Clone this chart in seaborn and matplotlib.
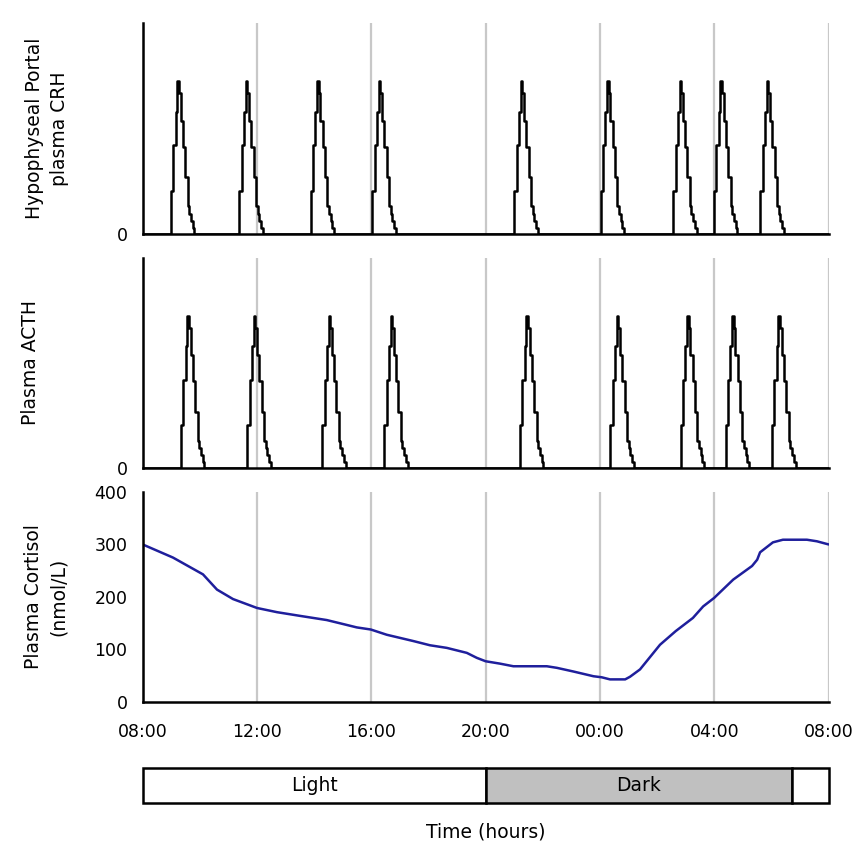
import matplotlib
matplotlib.use("Agg")
import matplotlib.pyplot as plt
import numpy as np
import pandas as pd
import seaborn as sns

# hours after 08:00
hour_ticks = [0, 4, 8, 12, 16, 20, 24]
hour_labels = ["08:00", "12:00", "16:00", "20:00", "00:00", "04:00", "08:00"]

# pulse onsets (hours after 08:00)
crh_onsets = [0.99, 3.38, 5.88, 8.04, 13.0, 16.02, 18.56, 19.99, 21.61]
acth_onsets = [1.34, 3.66, 6.28, 8.45, 13.2, 16.36, 18.82, 20.40, 22.02]

# shape of one pulse (offset in hours, relative level)
pulse_offsets = [0, 0.082, 0.163, 0.222, 0.28, 0.34, 0.42, 0.50, 0.58, 0.64, 0.70, 0.76, 0.82]
pulse_levels = [28, 58, 80, 100, 92, 74, 57, 37, 18, 13, 8.5, 4, 0]

# plasma cortisol (nmol/L)
cort_hours = [0.0, 1.06, 2.11, 2.60, 3.16, 4.0, 4.70, 5.50, 5.97, 6.44, 7.08, 7.49, 7.98,
              8.54, 9.47, 10.05, 10.64, 11.34, 11.69, 12.0, 12.50, 12.97, 14.14, 14.49,
              15.07, 15.77, 16.06, 16.35, 16.88, 17.05, 17.40, 18.10, 18.65, 19.25, 19.61,
              19.99, 20.66, 21.32, 21.50, 21.60, 22.05, 22.40, 23.24, 23.59, 24.0]
cort_values = [300, 275, 243, 214, 196, 179, 171, 164, 160, 156, 147.5, 142, 138,
               128, 116, 108, 103, 93.5, 84, 77.5, 73, 68, 68, 65,
               58, 49, 47, 43, 43, 48, 62, 109, 135, 160, 182,
               198, 233, 259, 271, 285, 304, 309, 309, 306, 300]

# light/dark bar
phase_names = ["Light", "Dark", ""]
phase_start = [0, 12, 22.73]
phase_end = [12, 22.73, 24]
phase_colors = ["white", "#c0c0c0", "white"]


def pulse_frame(onsets):
    t = [0.0]
    v = [0.0]
    for on in onsets:
        t.append(on - 0.001)
        v.append(0.0)
        for off, lev in zip(pulse_offsets, pulse_levels):
            t.append(on + off)
            v.append(lev)
    t.append(24.0)
    v.append(0.0)
    return pd.DataFrame({"hour": t, "level": v})


sns.set_style("white")
plt.rcParams["font.family"] = ["DejaVu Sans"]
plt.rcParams["axes.linewidth"] = 1.8
for k in ["text.color", "axes.labelcolor", "xtick.color", "ytick.color", "axes.edgecolor"]:
    plt.rcParams[k] = "black"

fig = plt.figure(figsize=(8.58, 8.52), dpi=100)
left, width = 0.1663, 0.7995
ax1 = fig.add_axes([left, 0.7254, width, 0.2477])
ax2 = fig.add_axes([left, 0.4507, width, 0.2465])
ax3 = fig.add_axes([left, 0.1761, width, 0.2465])
ax4 = fig.add_axes([left, 0.0575, width, 0.0411])

grid_col = "#c8c8c8"

for ax, onsets in [(ax1, crh_onsets), (ax2, acth_onsets)]:
    sns.lineplot(data=pulse_frame(onsets), x="hour", y="level", ax=ax,
                 color="black", lw=1.8, drawstyle="steps-post", estimator=None)
    ax.set_ylim(0, 138)
    ax.set_yticks([0])
    ax.set_xticks(hour_ticks)
    ax.set_xticklabels([])
    ax.tick_params(axis="x", colors=grid_col, length=6, width=1.6, direction="out")

cort = pd.DataFrame({"hour": cort_hours, "cortisol": cort_values})
sns.lineplot(data=cort, x="hour", y="cortisol", ax=ax3, color="#1f1f9c", lw=1.8)
ax3.set_ylim(0, 400)
ax3.set_yticks([0, 100, 200, 300, 400])
ax3.set_xticks(hour_ticks)
ax3.set_xticklabels(hour_labels)
ax3.tick_params(axis="x", length=7, width=1.8, direction="out", pad=8)

for ax in (ax1, ax2, ax3):
    ax.set_xlim(0, 24)
    ax.set_xlabel("")
    for s in ["top", "right"]:
        ax.spines[s].set_visible(False)
    ax.tick_params(axis="y", length=7, width=1.8, direction="out", labelsize=12.5, pad=4)
    ax.tick_params(axis="x", labelsize=12.5)
    ax.xaxis.grid(True, color=grid_col, lw=1.6)
    ax.set_axisbelow(True)

ax1.set_ylabel("Hypophyseal Portal\nplasma CRH", fontsize=13.5, linespacing=1.35, va="center")
ax1.yaxis.set_label_coords(-0.1395, 0.5)
ax2.set_ylabel("Plasma ACTH", fontsize=13.5, va="center")
ax2.yaxis.set_label_coords(-0.164, 0.5)
ax3.set_ylabel("Plasma Cortisol\n(nmol/L)", fontsize=13.5, linespacing=1.35, va="center")
ax3.yaxis.set_label_coords(-0.141, 0.5)

# light/dark bar
bars = ax4.barh([0.5] * len(phase_names), np.array(phase_end) - np.array(phase_start),
                left=phase_start, height=1.0, color=phase_colors, edgecolor="black", lw=1.8)
for b in bars:
    b.set_clip_on(False)
for name, s, e in zip(phase_names, phase_start, phase_end):
    ax4.text((s + e) / 2, 0.5, name, ha="center", va="center", fontsize=13.5)
ax4.set_xlim(0, 24)
ax4.set_ylim(0, 1)
ax4.set_xticks([])
ax4.set_yticks([])
for s in ax4.spines.values():
    s.set_visible(False)
ax4.set_xlabel("Time (hours)", fontsize=13.5, labelpad=14)

fig.savefig("out.png", dpi=100)
plt.close(fig)
